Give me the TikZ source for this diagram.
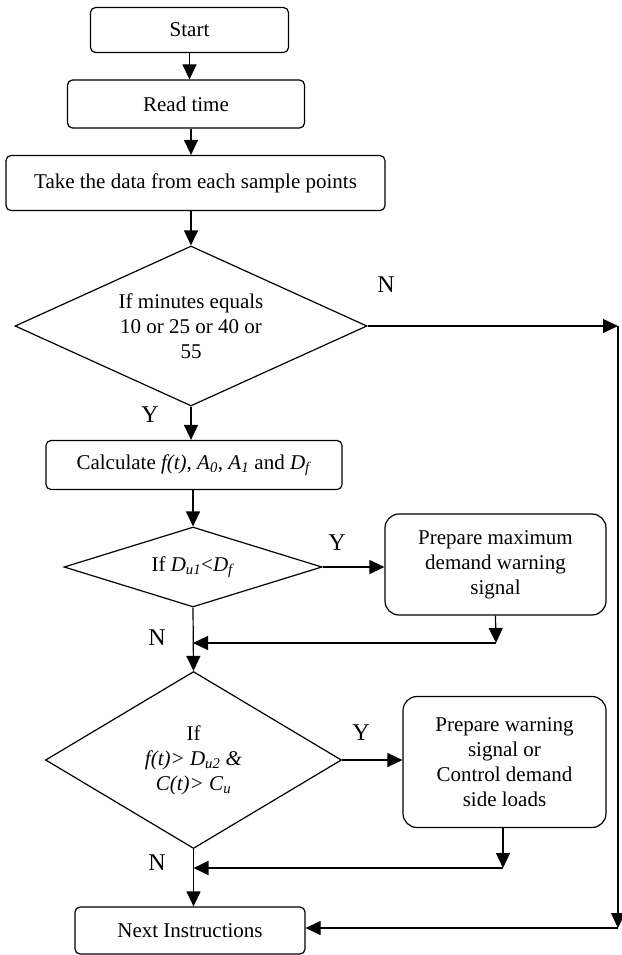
\documentclass[tikz,border=0pt]{standalone}
\usepackage{fontspec}
\setmainfont{Liberation Serif}
\usetikzlibrary{shapes.geometric,arrows.meta}
\newcommand{\itsub}[2]{\textit{#1}\textsubscript{\textit{#2}}}
\begin{document}
\begin{tikzpicture}[x=1pt, y=-1pt,
    every node/.style={font=\fontsize{21}{25}\selectfont},
    box/.style={draw, rounded corners=5pt, line width=1.2pt, inner sep=0pt},
    bigbox/.style={box, rounded corners=14pt, align=center},
    decision/.style={draw, diamond, line width=1.2pt, inner sep=0pt, align=center},
    yn/.style={font=\fontsize{24}{28}\selectfont},
    flow/.style={-{Triangle[length=15pt,width=14pt]}, line width=1.2pt}]
    \useasboundingbox (0,0) rectangle (621,955);
    \node[box, minimum width=198, minimum height=45] (start) at (189.5,30) {Start};
    \node[box, minimum width=237, minimum height=48] (read) at (186,104) {Read time};
    \node[box, minimum width=379, minimum height=55] (take) at (195.5,183) {Take the data from each sample points};
    \node[decision, aspect=2.2, minimum width=352, minimum height=160] (dec1) at (191,326) {If minutes equals\\10 or 25 or 40 or\\55};
    \node[box, minimum width=296, minimum height=49] (calc) at (194,465) {Calculate \textit{f(t)}, \itsub{A}{0}, \itsub{A}{1} and \itsub{D}{f}};
    \node[decision, aspect=3.2, minimum width=258, minimum height=80] (dec2) at (193,567) {If \itsub{D}{u1}<\itsub{D}{f}};
    \node[bigbox, minimum width=221, minimum height=101] (warn1) at (495.5,564.5) {Prepare maximum\\demand warning\\signal};
    \node[decision, aspect=1.67, minimum width=296, minimum height=177] (dec3) at (193.5,760) {If\\\textit{f(t)> }\itsub{D}{u2} \textit{\&}\\\textit{C(t)> }\itsub{C}{u}};
    \node[bigbox, minimum width=203, minimum height=131] (warn2) at (504.5,762) {Prepare warning\\signal or\\Control demand\\side loads};
    \node[box, minimum width=230, minimum height=47] (next) at (190,930.5) {Next Instructions};
    % yes / no labels
    \node[yn] (n1) at (386,285) {N};
    \node[yn] (y1) at (150,415) {Y};
    \node[yn] (y2) at (337,543) {Y};
    \node[yn] (n2) at (157,638) {N};
    \node[yn] (y3) at (361,733) {Y};
    \node[yn] (n3) at (157,863) {N};
    % corners of the side lines
    \coordinate (c1) at (618,326);
    \coordinate (c2) at (618,928);
    \coordinate (c3) at (496,643);
    \coordinate (c4) at (503,868);
    \draw[flow] (start.south) -- (read.north -| start.south);
    \draw[flow] (read.south -| dec1) -- (take.north -| dec1);
    \draw[flow] (take.south -| dec1) -- (dec1.north);
    \draw[flow] (dec1.south) -- (calc.north -| dec1.south);
    \draw[flow] (calc.south -| dec2) -- (dec2.north);
    \draw[flow] (dec2.south) -- (dec3.north);
    \draw[flow] (dec3.south) -- (next.north -| dec3.south);
    \draw[flow] (dec1.east) -- (c1);
    \draw[flow] (c1) -- (c2);
    \draw[flow] (c2) -- (next.east |- c2);
    \draw[flow] (dec2.east) -- (warn1.west |- dec2.east);
    \draw[flow] (warn1.south) -- (c3);
    \draw[flow] (c3) -- (c3 -| dec2.south);
    \draw[flow] (dec3.east) -- (warn2.west |- dec3.east);
    \draw[flow] (warn2.south -| c4) -- (c4);
    \draw[flow] (c4) -- (c4 -| dec3.south);
\end{tikzpicture}
\end{document}
